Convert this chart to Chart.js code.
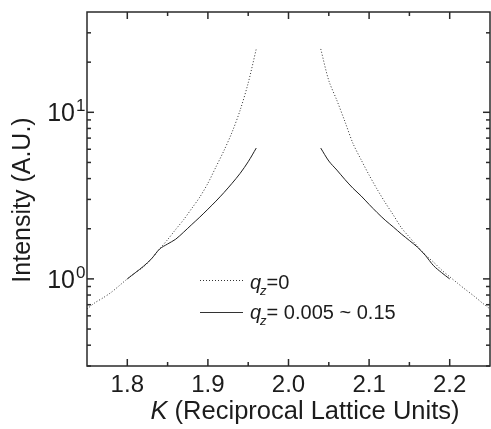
<!DOCTYPE html>
<html>
<head>
<meta charset="utf-8">
<script src="https://cdn.jsdelivr.net/npm/chart.js@4.4.0/dist/chart.umd.min.js"></script>
<style>
  html, body { margin: 0; padding: 0; background: #fff; }
  #wrap { width: 491px; height: 429px; }
</style>
</head>
<body>
<div id="wrap"><canvas id="chart" width="491" height="429"></canvas></div>
<script>
// q_z = 0 (dotted), both sides of the K = 2 peak
const dotLeftK = [1.75, 1.76, 1.77, 1.78, 1.79, 1.80, 1.81, 1.82, 1.83, 1.84, 1.85, 1.86, 1.87, 1.88, 1.89, 1.90, 1.91, 1.92, 1.93, 1.94, 1.95, 1.96];
const dotLeftI = [0.66, 0.72, 0.77, 0.83, 0.91, 1.0, 1.09, 1.18, 1.32, 1.51, 1.72, 1.98, 2.27, 2.65, 3.1, 3.75, 4.7, 5.9, 7.6, 10.3, 15.0, 24.0];
const dotRightK = [2.04, 2.05, 2.06, 2.07, 2.08, 2.09, 2.10, 2.11, 2.12, 2.13, 2.14, 2.15, 2.16, 2.17, 2.18, 2.19, 2.20, 2.21, 2.22, 2.23, 2.24, 2.25];
const dotRightI = [24.0, 15.5, 11.8, 8.8, 6.5, 5.2, 4.2, 3.45, 2.87, 2.42, 2.03, 1.78, 1.57, 1.39, 1.26, 1.13, 1.03, 0.94, 0.86, 0.79, 0.72, 0.66];

// q_z = 0.005 ~ 0.15 (solid)
const solLeftK = [1.80, 1.81, 1.82, 1.83, 1.84, 1.85, 1.86, 1.87, 1.88, 1.89, 1.90, 1.91, 1.92, 1.93, 1.94, 1.95, 1.96];
const solLeftI = [1.0, 1.09, 1.19, 1.32, 1.51, 1.62, 1.73, 1.91, 2.12, 2.35, 2.62, 2.93, 3.3, 3.75, 4.3, 5.05, 6.1];
const solRightK = [2.04, 2.05, 2.06, 2.07, 2.08, 2.09, 2.10, 2.11, 2.12, 2.13, 2.14, 2.15, 2.16, 2.17, 2.18, 2.19, 2.20];
const solRightI = [6.1, 5.1, 4.5, 3.95, 3.5, 3.15, 2.8, 2.5, 2.25, 2.05, 1.86, 1.70, 1.55, 1.38, 1.2, 1.09, 1.0];

const xMajor = [1.8, 1.9, 2.0, 2.1, 2.2];
const xMinor = [1.85, 1.95, 2.05, 2.15];
const yMajor = [1, 10];
const yExp = ['0', '1'];
const yMinor = [0.3, 0.4, 0.5, 0.6, 0.7, 0.8, 0.9, 2, 3, 4, 5, 6, 7, 8, 9, 20, 30];

const FONT = '"Liberation Sans", Arial, sans-serif';
const INK = '#1c1c1c';

function joinSides(kl, il, kr, ir) {
  const pts = kl.map((k, i) => ({ x: k, y: il[i] }));
  pts.push({ x: 2.0, y: null });
  return pts.concat(kr.map((k, i) => ({ x: k, y: ir[i] })));
}

const frameAndText = {
  id: 'frameAndText',
  afterDraw(chart) {
    const { ctx, chartArea: a, scales: { x, y } } = chart;
    ctx.save();
    ctx.strokeStyle = '#2a2a2a';
    ctx.lineWidth = 1.5;
    ctx.strokeRect(a.left, a.top, a.right - a.left, a.bottom - a.top);

    const line = (x1, y1, x2, y2) => { ctx.beginPath(); ctx.moveTo(x1, y1); ctx.lineTo(x2, y2); ctx.stroke(); };
    xMajor.forEach(v => { const p = x.getPixelForValue(v); line(p, a.bottom, p, a.bottom - 7); line(p, a.top, p, a.top + 7); });
    xMinor.forEach(v => { const p = x.getPixelForValue(v); line(p, a.bottom, p, a.bottom - 4); line(p, a.top, p, a.top + 4); });
    yMajor.forEach(v => { const p = y.getPixelForValue(v); line(a.left, p, a.left + 7, p); line(a.right, p, a.right - 7, p); });
    yMinor.forEach(v => { const p = y.getPixelForValue(v); line(a.left, p, a.left + 4, p); line(a.right, p, a.right - 4, p); });

    // y tick labels 10^n
    ctx.fillStyle = INK;
    yMajor.forEach((v, i) => {
      const p = y.getPixelForValue(v);
      ctx.font = '25px ' + FONT;
      ctx.textAlign = 'right';
      ctx.textBaseline = 'middle';
      ctx.fillText('10', 75, p + 2);
      ctx.font = '17px ' + FONT;
      ctx.textAlign = 'left';
      ctx.textBaseline = 'alphabetic';
      ctx.fillText(yExp[i], 76, p - 1);
    });

    // y title
    ctx.save();
    ctx.translate(23, 200);
    ctx.rotate(-Math.PI / 2);
    ctx.font = '25px ' + FONT;
    ctx.textAlign = 'center';
    ctx.textBaseline = 'middle';
    ctx.fillText('Intensity (A.U.)', 0, 0);
    ctx.restore();

    // x title, italic K
    ctx.textBaseline = 'middle';
    ctx.textAlign = 'left';
    ctx.font = 'italic 25.5px ' + FONT;
    const wK = ctx.measureText('K').width;
    ctx.font = '25.5px ' + FONT;
    const rest = ' (Reciprocal Lattice Units)';
    const wR = ctx.measureText(rest).width;
    let tx = 305 - (wK + wR) / 2;
    ctx.font = 'italic 25.5px ' + FONT;
    ctx.fillText('K', tx, 412);
    ctx.font = '25.5px ' + FONT;
    ctx.fillText(rest, tx + wK, 412);

    // legend
    const rows = [
      { y: 280.5, dash: [1, 2], text: '=0', ty: 283 },
      { y: 312.5, dash: [], text: '= 0.005 ~ 0.15', ty: 313 }
    ];
    rows.forEach(r => {
      ctx.strokeStyle = '#333';
      ctx.lineWidth = 1;
      ctx.setLineDash(r.dash);
      line(200, r.y, 243, r.y);
      ctx.setLineDash([]);
      let cx = 250;
      ctx.textBaseline = 'middle';
      ctx.font = 'italic 20px ' + FONT;
      ctx.fillText('q', cx, r.ty);
      cx += ctx.measureText('q').width;
      ctx.font = 'italic 13px ' + FONT;
      ctx.fillText('z', cx - 1, r.ty + 8);
      cx += ctx.measureText('z').width - 1;
      ctx.font = '20px ' + FONT;
      ctx.fillText(r.text, cx, r.ty);
    });
    ctx.restore();
  }
};

new Chart(document.getElementById('chart').getContext('2d'), {
  type: 'line',
  data: {
    datasets: [
      {
        label: 'qz=0',
        data: joinSides(dotLeftK, dotLeftI, dotRightK, dotRightI),
        borderColor: '#2e2e2e',
        borderWidth: 1,
        borderDash: [1, 2],
        pointRadius: 0,
        tension: 0.3,
        spanGaps: false
      },
      {
        label: 'qz= 0.005 ~ 0.15',
        data: joinSides(solLeftK, solLeftI, solRightK, solRightI),
        borderColor: '#1e1e1e',
        borderWidth: 1,
        pointRadius: 0,
        tension: 0.3,
        spanGaps: false
      }
    ]
  },
  options: {
    responsive: false,
    animation: false,
    devicePixelRatio: 1,
    layout: { padding: { top: 12, right: 1, left: 0, bottom: 0 } },
    plugins: { legend: { display: false }, tooltip: { enabled: false } },
    scales: {
      x: {
        type: 'linear',
        min: 1.75,
        max: 2.25,
        grid: { display: false, drawTicks: false },
        border: { display: false },
        afterBuildTicks: s => { s.ticks = xMajor.map(v => ({ value: v })); },
        afterFit: s => { s.height = 63; },
        ticks: {
          padding: 5,
          color: INK,
          font: { family: FONT, size: 24 },
          callback: v => v.toFixed(1)
        }
      },
      y: {
        type: 'logarithmic',
        min: 0.3,
        max: 40,
        grid: { display: false, drawTicks: false },
        border: { display: false },
        afterFit: s => { s.width = 87; },
        ticks: { display: false }
      }
    }
  },
  plugins: [frameAndText]
});
</script>
</body>
</html>
